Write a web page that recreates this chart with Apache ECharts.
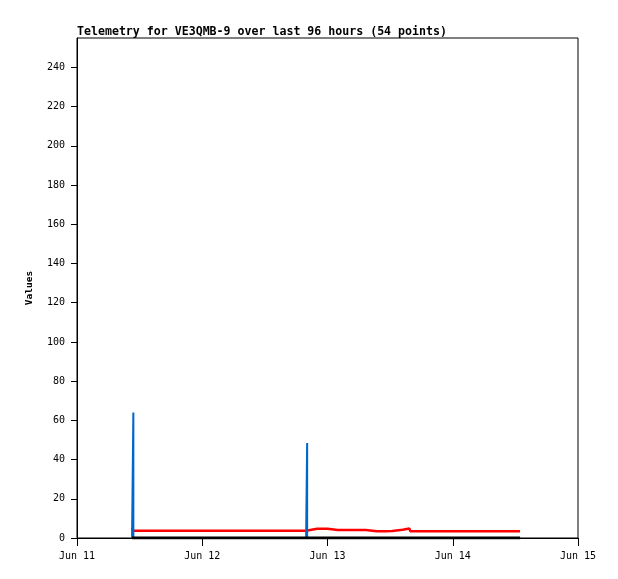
<!DOCTYPE html>
<html>
<head>
<meta charset="utf-8">
<script src="https://cdn.jsdelivr.net/npm/echarts@6/dist/echarts.min.js"></script>
<style>
html,body{margin:0;padding:0;background:#fff;}
#chart{width:618px;height:579px;}
</style>
</head>
<body>
<div id="chart"></div>
<script>
// Hours after Jun 11 00:00 (UTC) of each telemetry point
const hours = [
  10.55, 10.80, 10.80, 10.80, 12.30, 13.70, 15.10, 16.50, 17.90, 19.30,
  20.55, 20.70, 20.85, 22.20, 23.60, 25.00, 26.40, 27.80, 29.20, 30.60,
  32.00, 33.40, 34.75, 34.87, 35.00, 36.40, 37.80, 39.20, 40.60, 42.00,
  43.90, 44.10, 44.10, 44.10, 46.00, 48.00, 48.15, 50.00, 52.00, 55.30,
  55.45, 57.50, 59.10, 59.21, 59.35, 60.40, 60.55, 62.40, 62.55, 63.70,
  63.85, 70.00, 77.50, 84.90
];
const redValues = [
  5.2, 3.7, 3.7, 3.7, 3.7, 3.7, 3.7, 3.7, 3.7, 3.7,
  3.7, 4.4, 3.7, 3.7, 3.7, 3.7, 3.7, 3.7, 3.7, 3.7,
  3.7, 3.7, 3.7, 4.4, 3.7, 3.7, 3.7, 3.7, 3.7, 3.7,
  3.7, 4.7, 4.7, 4.7, 4.7, 4.7, 4.1, 4.1, 4.1, 4.1,
  3.5, 3.5, 3.5, 4.2, 3.5, 3.6, 4.2, 4.2, 4.8, 4.8,
  3.5, 3.5, 3.5, 3.5
];
const blueValues = [
  0, 0, 64, 0, 0, 0, 0, 0, 0, 0,
  0, 0, 0, 0, 0, 0, 0, 0, 0, 0,
  0, 0, 0, 0, 0, 0, 0, 0, 0, 0,
  0, 0, 48.5, 0, 0, 0, 0, 0, 0, 0,
  0, 0, 0, 0, 0, 0, 0, 0, 0, 0,
  0, 0, 0, 0
];
const blackValues = [
  0, 0, 0, 0, 0, 0, 0, 0, 0, 0,
  0, 0, 0, 0, 0, 0, 0, 0, 0, 0,
  0, 0, 0, 0, 0, 0, 0, 0, 0, 0,
  0, 0, 0, 0, 0, 0, 0, 0, 0, 0,
  0, 0, 0, 0, 0, 0, 0, 0, 0, 0,
  0, 0, 0, 0
];
const yTicks = [0, 20, 40, 60, 80, 100, 120, 140, 160, 180, 200, 220, 240];
const dayLabels = ['Jun 11', 'Jun 12', 'Jun 13', 'Jun 14', 'Jun 15'];
const titleText = 'Telemetry for VE3QMB-9 over last 96 hours (54 points)';
const yName = 'Values';

const DAY = 86400000;
const HOUR = 3600000;
const start = Date.UTC(2024, 5, 11);
const toPairs = vals => hours.map((h, i) => [start + h * HOUR, vals[i]]);

const chart = echarts.init(document.getElementById('chart'));
const mono = 'DejaVu Sans Mono';
chart.setOption({
  animation: false,
  backgroundColor: '#ffffff',
  title: {
    text: titleText,
    left: 77, top: 26, padding: 0,
    textStyle: { fontFamily: mono, fontSize: 11.6, fontWeight: 'bold', color: '#000' }
  },
  grid: { left: 77, right: 40, top: 38, bottom: 41, show: true, borderColor: '#000', borderWidth: 1, backgroundColor: 'transparent' },
  xAxis: {
    type: 'value',
    min: start, max: start + 4 * DAY, interval: DAY,
    axisLine: { lineStyle: { color: '#000', width: 1 } },
    axisTick: { show: true, length: 8, lineStyle: { color: '#000' } },
    splitLine: { show: false },
    axisLabel: {
      margin: 13, fontFamily: mono, fontSize: 10, color: '#000',
      showMinLabel: true, showMaxLabel: true,
      formatter: v => dayLabels[Math.round((v - start) / DAY)] || ''
    }
  },
  yAxis: {
    type: 'value', min: 0, max: 255,
    name: yName, nameLocation: 'middle', nameGap: 42,
    nameTextStyle: { fontFamily: mono, fontSize: 9.5, fontWeight: 'bold', color: '#000' },
    axisLine: { show: true, lineStyle: { color: '#000', width: 1 } },
    axisTick: { show: true, length: 6, lineStyle: { color: '#000' }, customValues: yTicks },
    splitLine: { show: false },
    axisLabel: { margin: 12, fontFamily: mono, fontSize: 10, color: '#000', customValues: yTicks }
  },
  series: [
    { type: 'line', data: toPairs(redValues), showSymbol: false, lineStyle: { color: '#ff0000', width: 2.5, join: 'bevel' }, itemStyle: { color: '#ff0000' }, z: 2 },
    { type: 'line', data: toPairs(blueValues), showSymbol: false, lineStyle: { color: '#0066cc', width: 2, join: 'bevel' }, itemStyle: { color: '#0066cc' }, z: 3 },
    { type: 'line', data: toPairs(blackValues), showSymbol: false, lineStyle: { color: '#000000', width: 3 }, itemStyle: { color: '#000' }, z: 4 }
  ]
});
</script>
</body>
</html>
